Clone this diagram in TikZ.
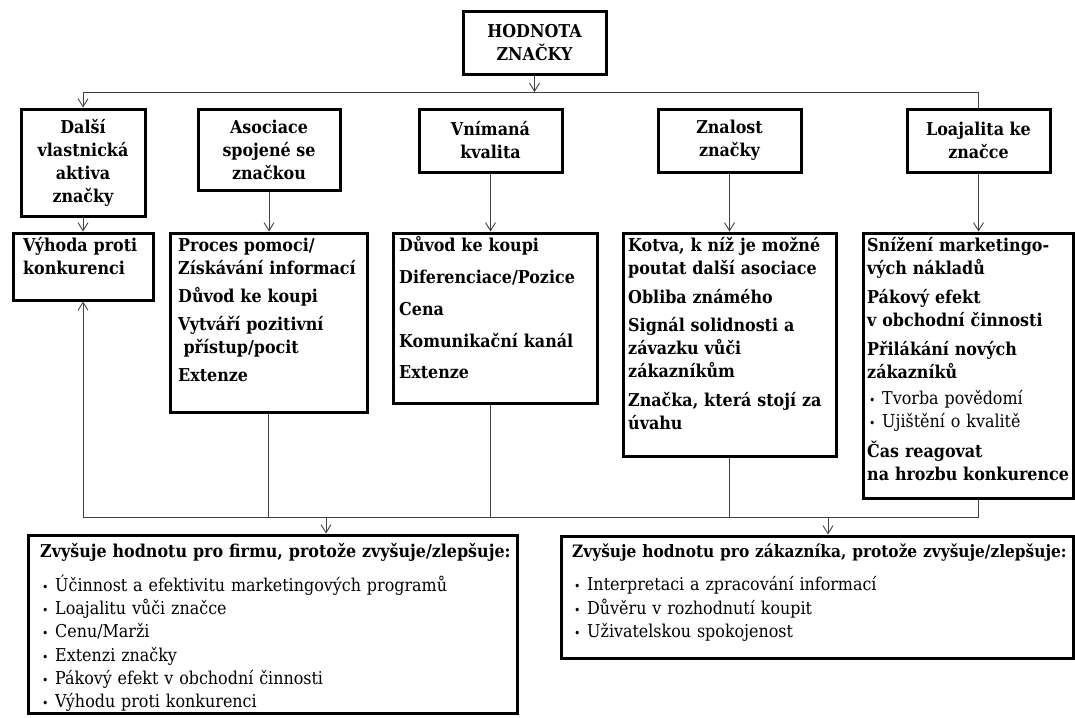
\documentclass[tikz,border=0pt]{standalone}
\usepackage{fontspec}
\setmainfont{DejaVu Serif Condensed}
\usetikzlibrary{arrows.meta}
\newcommand\fsz{\fontsize{17.7}{23}\selectfont}
\newcommand\itm{\hspace*{2pt}\makebox[13pt][l]{\fontsize{12pt}{12pt}\selectfont •}}
\begin{document}
\begin{tikzpicture}[x=1pt,y=-1pt,
  box/.style={draw=black, line width=3pt, inner sep=0pt},
  conn/.style={draw=black!75, line width=0.9pt},
  arr/.style={conn, -{Straight Barb[length=8pt,width=10pt]}},
  hd/.style={box, font=\fsz\bfseries, align=center},
  bd/.style={font=\fsz\bfseries, align=left, anchor=north west, inner sep=0pt, text width=#1},
  bd/.default=210pt]
\useasboundingbox (0,0) rectangle (1075,717);
% row 0
\node[hd, minimum width=143pt, minimum height=62pt] (top) at (534.5,43) {HODNOTA\\ZNAČKY};
% row 1
\node[hd, minimum width=124pt, minimum height=107pt] (dalsi) at (83,162.5) {Další\\vlastnická\\aktiva\\značky};
\node[hd, minimum width=142pt, minimum height=81pt] (asoc) at (269,149.5) {Asociace\\spojené se\\značkou};
\node[hd, minimum width=143pt, minimum height=63pt] (vnim) at (490.5,140.5) {Vnímaná\\kvalita};
\node[hd, minimum width=143pt, minimum height=63pt] (znal) at (729.5,140.5) {Znalost\\značky};
\node[hd, minimum width=143pt, minimum height=63pt] (loaj) at (978.5,140.5) {Loajalita ke\\značce};
% row 2 boxes
\node[box, minimum width=140pt, minimum height=67pt] (vyh) at (83,266.5) {};
\node[box, minimum width=197pt, minimum height=179pt] (proc) at (268.5,322.5) {};
\node[box, minimum width=204pt, minimum height=170pt] (duv) at (495,318) {};
\node[box, minimum width=213pt, minimum height=223pt] (kotva) at (729.5,344.5) {};
\node[box, minimum width=210pt, minimum height=265pt] (sniz) at (968,365.5) {};
% row 2 texts
\node[bd] (vyht) at (23,235.6) {\strut Výhoda proti\\konkurenci};
\node[bd] (proct) at (178,235.6) {\strut Proces pomoci/\\Získávání informací\\[5pt]Důvod ke koupi\\[5pt]Vytváří pozitivní\\\hspace*{0.3em}přístup/pocit\\[5pt]Extenze};
\node[bd] (duvt) at (399,235.6) {\strut Důvod ke koupi\\[8.75pt]Diferenciace/Pozice\\[8.75pt]Cena\\[8.75pt]Komunikační kanál\\[8.75pt]Extenze};
\node[bd] (kotvat) at (628,235.6) {\strut Kotva, k níž je možné\\poutat další asociace\\[5.5pt]Obliba známého\\[5.5pt]Signál solidnosti a\\závazku vůči\\zákazníkům\\[5.5pt]Značka, která stojí za\\úvahu};
\node[bd] (snizt) at (867,235.6) {\strut Snížení marketingo-\\vých nákladů\\[6pt]Pákový efekt\\v obchodní činnosti\\[6pt]Přilákání nových\\zákazníků\\[3pt]{\mdseries\itm Tvorba povědomí}\\{\mdseries\itm Ujištění o kvalitě}\\[7pt]Čas reagovat\\na hrozbu konkurence};
% bottom boxes
\node[box, minimum width=489pt, minimum height=178pt] (firm) at (272.5,624) {};
\node[box, minimum width=512pt, minimum height=122pt] (zak) at (817,597) {};
\node[bd=520pt] (firmt) at (40,541.6) {\strut Zvyšuje hodnotu pro firmu, protože zvyšuje/zlepšuje:\\[9pt]{\mdseries\itm Účinnost a efektivitu marketingových programů}\\[0.3pt]{\mdseries\itm Loajalitu vůči značce}\\[0.3pt]{\mdseries\itm Cenu/Marži}\\[0.3pt]{\mdseries\itm Extenzi značky}\\[0.3pt]{\mdseries\itm Pákový efekt v obchodní činnosti}\\[0.3pt]{\mdseries\itm Výhodu proti konkurenci}};
\node[bd=560pt] (zakt) at (572,541.6) {\strut{\fontsize{17.1}{23}\selectfont Zvyšuje hodnotu pro zákazníka, protože zvyšuje/zlepšuje:}\\[10pt]{\mdseries\itm Interpretaci a zpracování informací}\\[0.3pt]{\mdseries\itm Důvěru v rozhodnutí koupit}\\[0.3pt]{\mdseries\itm Uživatelskou spokojenost}};
% connectors
\coordinate (hl) at (0,92);
\coordinate (ll) at (0,517);
\coordinate (fa) at (326,517);
\coordinate (za) at (828,517);
\draw[arr] (top.south) -- (top.south |- hl);
\draw[arr] (loaj.north) -- (loaj.north |- hl) -- (dalsi.north |- hl) -- (dalsi.north);
\draw[arr] (dalsi.south) -- (vyh.north);
\draw[arr] (asoc.south) -- (asoc.south |- proc.north);
\draw[arr] (vnim.south) -- (vnim.south |- duv.north);
\draw[arr] (znal.south) -- (znal.south |- kotva.north);
\draw[arr] (loaj.south) -- (loaj.south |- sniz.north);
\draw[arr] (loaj.south |- sniz.south) -- (loaj.south |- ll) -- (vyh.south |- ll) -- (vyh.south);
\draw[conn] (proc.south) -- (proc.south |- ll);
\draw[conn] (vnim.south |- duv.south) -- (vnim.south |- ll);
\draw[conn] (kotva.south) -- (kotva.south |- ll);
\draw[arr] (fa) -- (fa |- firm.north);
\draw[arr] (za) -- (za |- zak.north);
\end{tikzpicture}
\end{document}
